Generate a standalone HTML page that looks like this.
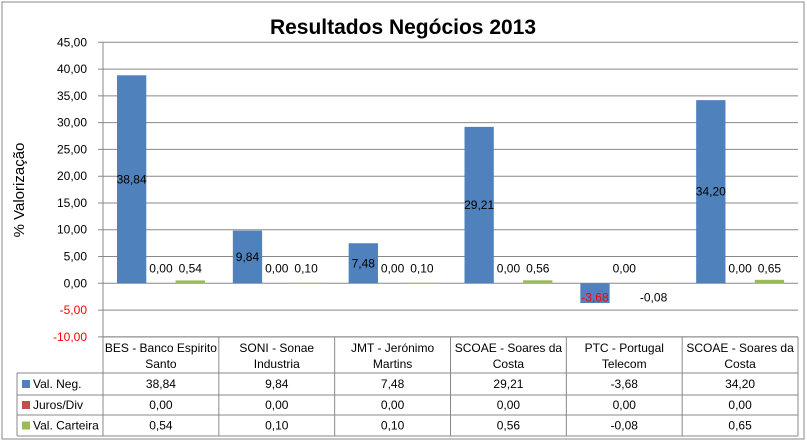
<!DOCTYPE html>
<html><head><meta charset="utf-8"><style>
body{margin:0;background:#fff;}
svg{display:block;font-family:"Liberation Sans",sans-serif;}
</style></head><body>
<svg width="807" height="443" viewBox="0 0 807 443">
<rect x="2" y="2" width="802" height="437" fill="#fff" stroke="#888"/>
<text x="403" y="34" text-anchor="middle" font-size="21" font-weight="bold">Resultados Negócios 2013</text>
<text transform="translate(24,190) rotate(-90)" text-anchor="middle" font-size="15">% Valorização</text>
<g id="grid"></g><g id="bars"></g><g id="labels"></g><g id="table"></g>
</svg>
<script>
const categories=[["BES - Banco Espirito","Santo"],["SONI - Sonae","Industria"],["JMT - Jerónimo","Martins"],["SCOAE - Soares da","Costa"],["PTC - Portugal","Telecom"],["SCOAE - Soares da","Costa"]];
const seriesNames=["Val. Neg.","Juros/Div","Val. Carteira"];
const valNeg=[38.84,9.84,7.48,29.21,-3.68,34.20];
const jurosDiv=[0,0,0,0,0,0];
const valCarteira=[0.54,0.10,0.10,0.56,-0.08,0.65];
const yTicks=[45,40,35,30,25,20,15,10,5,0,-5,-10];
const colors=["#4f81bd","#c0504d","#9bbb59"];
const series=[valNeg,jurosDiv,valCarteira];
const NS="http://www.w3.org/2000/svg";
const X0=103,X1=798,Y45=42.3,Y0=283.3;
const colW=(X1-X0)/categories.length;
const yS=v=>Y0-(v)*(Y0-Y45)/45;
const fmt=v=>v.toFixed(2).replace('.',',');
function el(t,a,p){const e=document.createElementNS(NS,t);for(const k in a)e.setAttribute(k,a[k]);document.getElementById(p).appendChild(e);return e;}
yTicks.forEach(t=>{
  const y=yS(t);
  const l=el('line',{x1:X0-5,x2:X1,y1:y,y2:y,stroke:'#888','stroke-width':1},'grid');
  
  
  const tx=el('text',{x:87,y:y+4,'text-anchor':'end','font-size':12,fill:t<0?'#ff0000':'#000'},'grid');
  tx.textContent=fmt(t);
  
  
});
const ax=el('line',{x1:X0,x2:X0,y1:Y45,y2:yS(-10),stroke:'#888'},'grid');


const bw=29.3;
categories.forEach((c,i)=>{
  const gx=X0+i*colW+14;
  series.forEach((s,j)=>{
    const v=s[i];const x=gx+j*bw;
    const y=Math.min(yS(v),Y0),h=Math.abs(yS(v)-Y0);
    if(h>0){
      const r=el('rect',{x:x,y:y,width:bw,height:h,fill:colors[j]},'bars');
      
      
    }
    const c2=(yS(v)+Y0)/2;
    const ly=v>=0?Math.min(Y0-15,c2):Math.max(Y0+14,c2);
    const t=el('text',{x:x+bw/2,y:ly+4,'text-anchor':'middle','font-size':12,fill:(j==0&&v<0)?'#ff0000':'#000'},'labels');
    t.textContent=fmt(v);
    
    
  });
});
// table
const TY0=yS(-10),TY1=373,rows=[373,395,415,436],LX=17;
function line(x1,y1,x2,y2){const l=el('line',{x1,y1,x2,y2,stroke:'#888'},'table');}
line(X0,TY0,X1,TY0);
rows.forEach(y=>line(LX,y,X1,y));
line(LX,rows[0],LX,rows[3]);
for(let i=0;i<=categories.length;i++)line(X0+i*colW,TY0,X0+i*colW,rows[3]);
categories.forEach((c,i)=>{
  c.forEach((s,k)=>{
    const t=el('text',{x:X0+(i+.5)*colW,y:TY0+15+k*16,'text-anchor':'middle','font-size':12},'table');
    t.textContent=s;
    
    
  });
  series.forEach((s,j)=>{
    const t=el('text',{x:X0+(i+.5)*colW,y:(rows[j]+rows[j+1])/2+4,'text-anchor':'middle','font-size':12},'table');
    t.textContent=fmt(s[i]);
    
    
  });
});
seriesNames.forEach((n,j)=>{
  const cy=(rows[j]+rows[j+1])/2;
  const k=el('rect',{x:LX+5,y:cy-4,width:8,height:8,fill:colors[j]},'table');
  
  
  const t=el('text',{x:LX+16,y:cy+4,'font-size':12},'table');
  t.textContent=n;
  
  
});
</script>
</body></html>
